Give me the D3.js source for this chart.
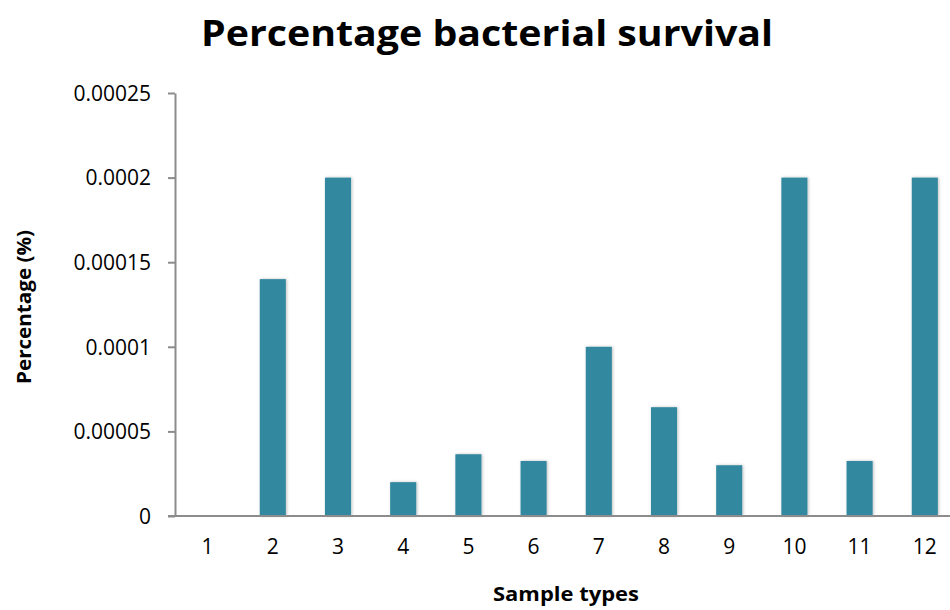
<!DOCTYPE html>
<html>
<head>
<meta charset="utf-8">
<script src="https://cdn.jsdelivr.net/npm/d3@7"></script>
<style>
  body { margin: 0; background: #fff; }
  text { font-family: "Open Sans", "Noto Sans", sans-serif; fill: #000; }
</style>
</head>
<body>
<script>
const width = 950;
const height = 610;

// data
const samples = ['1', '2', '3', '4', '5', '6', '7', '8', '9', '10', '11', '12'];
const survival = [0, 0.00014, 0.0002, 0.00002, 0.0000365, 0.0000325, 0.0001, 0.0000643, 0.00003, 0.0002, 0.0000325, 0.0002];
const yTicks = [0, 0.00005, 0.0001, 0.00015, 0.0002, 0.00025];
const yTickLabels = ['0', '0.00005', '0.0001', '0.00015', '0.0002', '0.00025'];

const x_start = 175;
const y_start = 516;
const y_end = 93;
const band = 65.2;

const svg = d3.select('body')
  .append('svg')
  .attr('width', width)
  .attr('height', height);

const defs = svg.append('defs');
const shadow = defs.append('filter')
  .attr('id', 'shadow')
  .attr('x', '-30%').attr('y', '-10%')
  .attr('width', '160%').attr('height', '120%');
shadow.append('feDropShadow')
  .attr('dx', 1).attr('dy', 0)
  .attr('stdDeviation', 1.5)
  .attr('flood-color', '#000')
  .attr('flood-opacity', 0.25);

const xScale = d3.scaleBand()
  .domain(samples)
  .range([x_start, x_start + band * samples.length])
  .paddingInner(0.6)
  .paddingOuter(0.3);

const yScale = d3.scaleLinear()
  .domain([0, 0.00025])
  .range([y_start, y_end]);

// bars
svg.append('g')
  .selectAll('rect')
  .data(survival)
  .enter()
  .append('rect')
  .attr('x', (d, i) => xScale(samples[i]))
  .attr('y', d => yScale(d))
  .attr('width', xScale.bandwidth())
  .attr('height', d => y_start - yScale(d))
  .attr('fill', '#31889f')
  .attr('filter', 'url(#shadow)')
  .style('display', d => d > 0 ? null : 'none');

// y axis
const yAxis = d3.axisLeft(yScale)
  .tickValues(yTicks)
  .tickFormat((d, i) => yTickLabels[i])
  .tickSizeInner(7)
  .tickSizeOuter(0)
  .tickPadding(17);

const yG = svg.append('g')
  .attr('transform', 'translate(' + x_start + ',0)')
  .call(yAxis);
yG.select('.domain').attr('stroke', '#8c8c8c').attr('stroke-width', 2);
yG.selectAll('.tick line').attr('stroke', '#8c8c8c').attr('stroke-width', 2);
yG.selectAll('.tick text')
  .style('font-size', '21px')
  .attr('dy', '0.35em');

// x axis
const xAxis = d3.axisBottom(xScale)
  .tickSize(0)
  .tickPadding(23);

const xG = svg.append('g')
  .attr('transform', 'translate(0,' + y_start + ')')
  .call(xAxis);
xG.select('.domain').remove();
xG.append('line')
  .attr('x1', x_start - 7)
  .attr('x2', width)
  .attr('y1', 0)
  .attr('y2', 0)
  .attr('stroke', '#8c8c8c')
  .attr('stroke-width', 2);
xG.selectAll('.tick text')
  .style('font-size', '21px');

// titles
svg.append('text')
  .attr('x', 487)
  .attr('y', 46)
  .attr('text-anchor', 'middle')
  .style('font-size', '36px')
  .style('font-weight', 'bold')
  .attr('textLength', 572)
  .attr('lengthAdjust', 'spacingAndGlyphs')
  .text('Percentage bacterial survival');

svg.append('text')
  .attr('x', 566)
  .attr('y', 601)
  .attr('text-anchor', 'middle')
  .style('font-size', '20px')
  .style('font-weight', 'bold')
  .attr('textLength', 146)
  .attr('lengthAdjust', 'spacingAndGlyphs')
  .text('Sample types');

svg.append('text')
  .attr('transform', 'translate(31,307) rotate(-90)')
  .attr('text-anchor', 'middle')
  .style('font-size', '20px')
  .style('font-weight', 'bold')
  .attr('textLength', 154)
  .attr('lengthAdjust', 'spacingAndGlyphs')
  .text('Percentage (%)');
</script>
</body>
</html>
